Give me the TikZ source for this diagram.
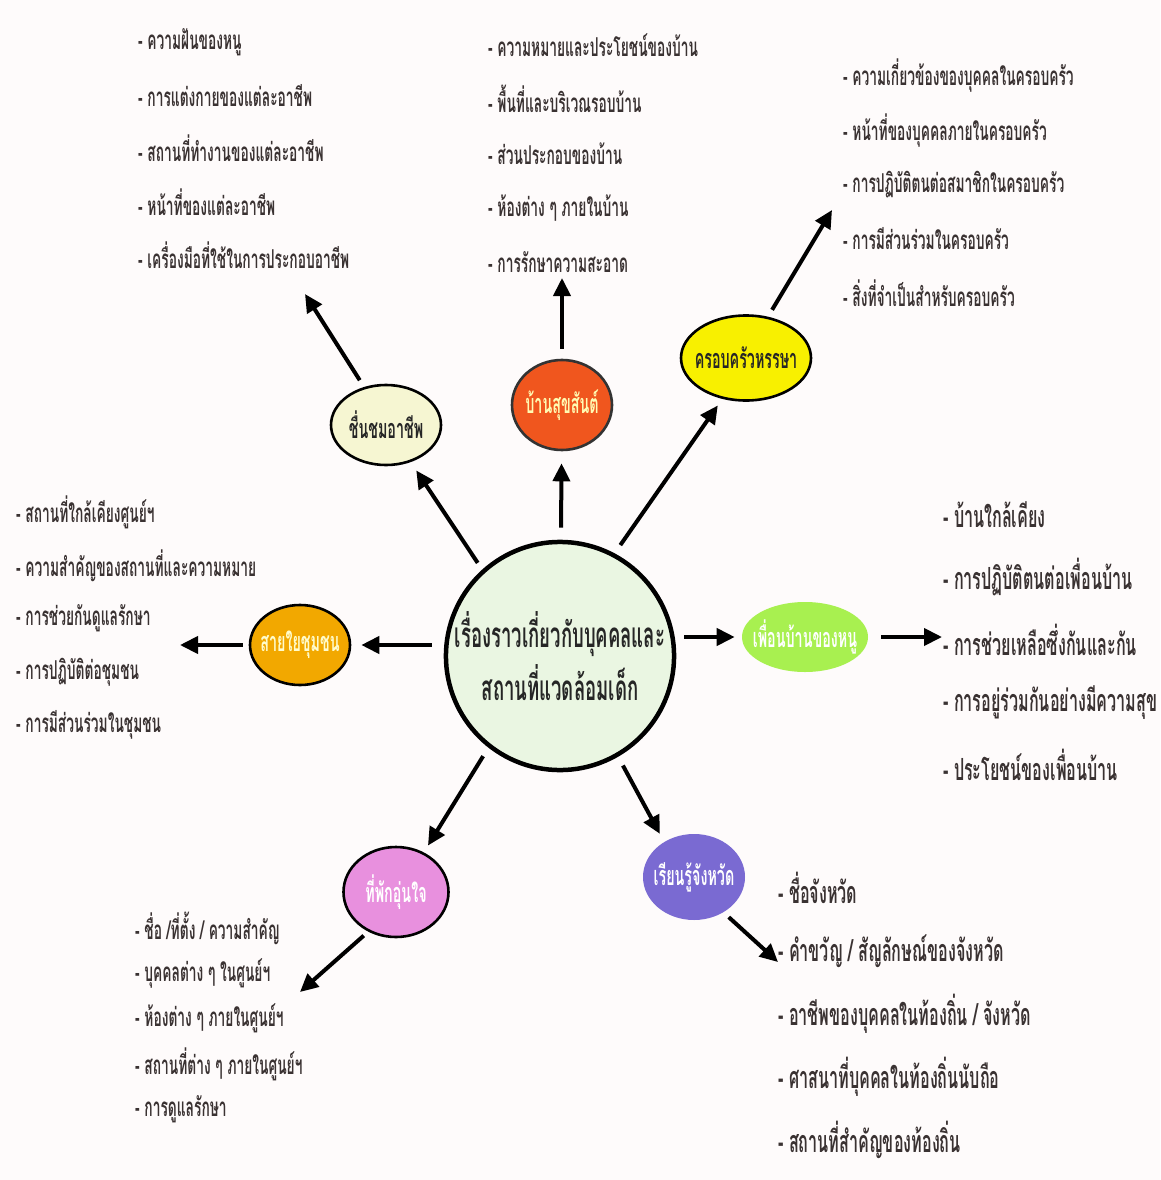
\documentclass[tikz,border=0pt]{standalone}
\usepackage{fontspec}
\usetikzlibrary{arrows.meta,shapes.geometric}
\newfontfamily\thaifont[Script=Thai,FakeStretch=0.53]{Loma}
\newcommand{\toplab}[1]{\makebox[0pt]{#1}}
\definecolor{bgc}{HTML}{FEFBFB}
\definecolor{txt}{HTML}{3A3232}
\definecolor{hubc}{HTML}{EAF6E2}
\definecolor{creamc}{HTML}{F6F6D2}
\definecolor{redc}{HTML}{F0561E}
\definecolor{yelc}{HTML}{F8F000}
\definecolor{orgc}{HTML}{F2A800}
\definecolor{limec}{HTML}{A8F050}
\definecolor{pinkc}{HTML}{E890DE}
\definecolor{purc}{HTML}{7A6AD2}
\tikzset{
  topic/.style={ellipse, inner sep=0pt, line width=2.6pt, draw=black,
    font=\thaifont\bfseries\fontsize{27}{30}\selectfont},
  item/.style={anchor=west, inner sep=0pt, text=txt,
    font=\thaifont\bfseries\fontsize{26}{30}\selectfont},
  bigitem/.style={item, font=\thaifont\bfseries\fontsize{30.5}{34}\selectfont},
  arr/.style={line width=4pt, -{Triangle[length=18pt,width=17pt]}},
}
\begin{document}
\begin{tikzpicture}[x=1pt,y=-1pt]
\fill[bgc] (0,0) rectangle (1160,1180);
\useasboundingbox (0,0) rectangle (1160,1180);

% hub
\node[circle, draw=black, line width=4.5pt, fill=hubc, minimum size=222pt, inner sep=0pt,
  align=center, text=black!85, font=\thaifont\bfseries\fontsize{35}{53}\selectfont]
  (hub) at (560,656) {เรื่องราวเกี่ยวกับบุคคลและ\\สถานที่แวดล้อมเด็ก};

% topics
\node[topic, fill=creamc, minimum width=110pt, minimum height=80pt, text=black!85] (job) at (386,425) {\toplab{ชื่นชมอาชีพ}};
\node[topic, fill=redc, draw=black!80, minimum width=100pt, minimum height=90pt, text=yellow!30] (home) at (562,405) {\toplab{บ้านสุขสันต์}};
\node[topic, fill=yelc, minimum width=130pt, minimum height=85pt, text=black!85] (fam) at (746,358) {\toplab{ครอบครัวหรรษา}};
\node[topic, fill=orgc, minimum width=100pt, minimum height=80pt, text=yellow!20] (comm) at (300,645) {\toplab{สายใยชุมชน}};
\node[topic, fill=limec, draw=none, minimum width=126pt, minimum height=70pt, text=white] (nbr) at (805,637) {\toplab{เพื่อนบ้านของหนู}};
\node[topic, fill=pinkc, minimum width=105pt, minimum height=90pt, text=white] (ctr) at (396,892) {\toplab{ที่พักอุ่นใจ}};
\node[topic, fill=purc, draw=none, minimum width=102pt, minimum height=86pt, text=white] (prov) at (694,877) {\toplab{เรียนรู้จังหวัด}};

% hub -> topics
\draw[arr, shorten <=8pt, shorten >=10pt] (hub.132) -- (job);
\draw[arr, shorten <=12pt, shorten >=12pt] (hub) -- (home);
\draw[arr, shorten <=10pt, shorten >=8pt] (hub.62) -- (fam.240);
\draw[arr, shorten <=12pt, shorten >=10pt] (hub.west |- comm) -- (comm.east);
\draw[arr, shorten <=8pt, shorten >=6pt] (hub.east |- nbr) -- (nbr.west);
\draw[arr, shorten <=10pt, shorten >=8pt] (hub.232) -- (ctr.55);
\draw[arr, shorten <=10pt, shorten >=8pt] (hub.300) -- (prov.130);

% topic -> lists
\coordinate (t1) at (305,294);
\coordinate (t2) at (562,278);
\coordinate (t3) at (832,210);
\coordinate (t4) at (180,645);
\coordinate (t5) at (942,637);
\coordinate (t6) at (300,992);
\coordinate (t7) at (778,962);
\draw[arr, shorten <=8pt] (job.120) -- (t1);
\draw[arr, shorten <=10pt] (home.north) -- (t2);
\draw[arr, shorten <=8pt] (fam.62) -- (t3);
\draw[arr, shorten <=6pt] (comm.west) -- (t4);
\draw[arr, shorten <=12pt] (nbr.east) -- (t5);
\draw[arr, shorten <=6pt] (ctr.235) -- (t6);
\draw[arr, shorten <=6pt] (prov.310) -- (t7);

% lists
\foreach \t [count=\i] in {{- ความฝันของหนู},{- การแต่งกายของแต่ละอาชีพ},{- สถานที่ทำงานของแต่ละอาชีพ},{- หน้าที่ของแต่ละอาชีพ},{- เครื่องมือที่ใช้ในการประกอบอาชีพ}}
  \node[item] (ja\i) at (138,{42+(\i-1)*53.3}) {\t};
\foreach \t [count=\i] in {{- ความหมายและประโยชน์ของบ้าน},{- พื้นที่และบริเวณรอบบ้าน},{- ส่วนประกอบของบ้าน},{- ห้องต่าง ๆ ภายในบ้าน},{- การรักษาความสะอาด}}
  \node[item] (ha\i) at (488,{45+(\i-1)*54.2}) {\t};
\foreach \t [count=\i] in {{- ความเกี่ยวข้องของบุคคลในครอบครัว},{- หน้าที่ของบุคคลภายในครอบครัว},{- การปฏิบัติตนต่อสมาชิกในครอบครัว},{- การมีส่วนร่วมในครอบครัว},{- สิ่งที่จำเป็นสำหรับครอบครัว}}
  \node[item] (fa\i) at (843,{76+(\i-1)*54.2}) {\t};
\foreach \t [count=\i] in {{- สถานที่ใกล้เคียงศูนย์ฯ},{- ความสำคัญของสถานที่และความหมาย},{- การช่วยกันดูแลรักษา},{- การปฏิบัติต่อชุมชน},{- การมีส่วนร่วมในชุมชน}}
  \node[item] (ca\i) at (16,{512+(\i-1)*53.3}) {\t};
\foreach \t [count=\i] in {{- บ้านใกล้เคียง},{- การปฏิบัติตนต่อเพื่อนบ้าน},{- การช่วยเหลือซึ่งกันและกัน},{- การอยู่ร่วมกันอย่างมีความสุข},{- ประโยชน์ของเพื่อนบ้าน}}
  \node[bigitem] (na\i) at (943,{515+(\i-1)*62.5}) {\t};
\foreach \t [count=\i] in {{- ชื่อ /ที่ตั้ง / ความสำคัญ},{- บุคคลต่าง ๆ ในศูนย์ฯ},{- ห้องต่าง ๆ ภายในศูนย์ฯ},{- สถานที่ต่าง ๆ ภายในศูนย์ฯ},{- การดูแลรักษา}}
  \node[item] (ta\i) at (135,{928+(\i-1)*45.3}) {\t};
\foreach \t [count=\i] in {{- ชื่อจังหวัด},{- คำขวัญ / สัญลักษณ์ของจังหวัด},{- อาชีพของบุคคลในท้องถิ่น / จังหวัด},{- ศาสนาที่บุคคลในท้องถิ่นนับถือ},{- สถานที่สำคัญของท้องถิ่น}}
  \node[bigitem] (pa\i) at (778,{888+(\i-1)*63}) {\t};
\end{tikzpicture}
\end{document}
